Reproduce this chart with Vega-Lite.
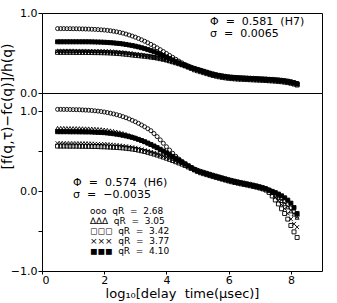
{
"$schema":"https://vega.github.io/schema/vega-lite/v6.json",
"padding":{"left":0,"top":6,"right":5,"bottom":0},
"background":"white",
"bounds":"flush",
"config":{
"font":"DejaVu Sans",
"view":{"stroke":"black","strokeWidth":1},
"axis":{"grid":false,"domain":false,"tickColor":"black","tickSize":4,"tickWidth":1,"labelFont":"DejaVu Sans","labelFontSize":11,"labelColor":"black","labelPadding":1,"titleFont":"DejaVu Sans","titleFontSize":13,"titleFontWeight":"normal","titleColor":"black"}
},
"title":{"text":"[f(q,τ)−fc(q)]/h(q)","orient":"left","anchor":"middle","fontSize":14,"font":"DejaVu Sans","fontWeight":"normal","color":"black","offset":-5,"dx":47},
"spacing":0,
"resolve":{"scale":{"shape":"independent","fill":"independent"},"legend":{"shape":"independent","fill":"independent"}},
"datasets":{
"top":[
{"q":"2.68","x":0.5,"y":0.805},{"q":"2.68","x":0.6,"y":0.805},{"q":"2.68","x":0.7,"y":0.805},{"q":"2.68","x":0.8,"y":0.804},{"q":"2.68","x":0.9,"y":0.804},{"q":"2.68","x":1.0,"y":0.803},{"q":"2.68","x":1.1,"y":0.803},{"q":"2.68","x":1.2,"y":0.802},{"q":"2.68","x":1.3,"y":0.801},{"q":"2.68","x":1.4,"y":0.800},
{"q":"2.68","x":1.5,"y":0.799},{"q":"2.68","x":1.6,"y":0.797},{"q":"2.68","x":1.7,"y":0.795},{"q":"2.68","x":1.8,"y":0.793},{"q":"2.68","x":1.9,"y":0.790},{"q":"2.68","x":2.0,"y":0.787},{"q":"2.68","x":2.1,"y":0.783},{"q":"2.68","x":2.2,"y":0.778},{"q":"2.68","x":2.3,"y":0.772},{"q":"2.68","x":2.4,"y":0.765},
{"q":"2.68","x":2.5,"y":0.757},{"q":"2.68","x":2.6,"y":0.748},{"q":"2.68","x":2.7,"y":0.737},{"q":"2.68","x":2.8,"y":0.725},{"q":"2.68","x":2.9,"y":0.712},{"q":"2.68","x":3.0,"y":0.698},{"q":"2.68","x":3.1,"y":0.682},{"q":"2.68","x":3.2,"y":0.665},{"q":"2.68","x":3.3,"y":0.647},{"q":"2.68","x":3.4,"y":0.628},
{"q":"2.68","x":3.5,"y":0.608},{"q":"2.68","x":3.6,"y":0.587},{"q":"2.68","x":3.7,"y":0.565},{"q":"2.68","x":3.8,"y":0.542},{"q":"2.68","x":3.9,"y":0.518},{"q":"2.68","x":4.0,"y":0.494},{"q":"2.68","x":4.1,"y":0.470},{"q":"2.68","x":4.2,"y":0.446},{"q":"2.68","x":4.3,"y":0.422},{"q":"2.68","x":4.4,"y":0.399},
{"q":"2.68","x":4.5,"y":0.377},{"q":"2.68","x":4.6,"y":0.357},{"q":"2.68","x":4.7,"y":0.339},{"q":"2.68","x":4.8,"y":0.323},{"q":"2.68","x":4.9,"y":0.309},{"q":"2.68","x":5.0,"y":0.296},{"q":"2.68","x":5.1,"y":0.286},{"q":"2.68","x":5.2,"y":0.274},{"q":"2.68","x":5.3,"y":0.262},{"q":"2.68","x":5.4,"y":0.250},
{"q":"2.68","x":5.5,"y":0.239},{"q":"2.68","x":5.6,"y":0.230},{"q":"2.68","x":5.7,"y":0.222},{"q":"2.68","x":5.8,"y":0.215},{"q":"2.68","x":5.9,"y":0.209},{"q":"2.68","x":6.0,"y":0.204},{"q":"2.68","x":6.1,"y":0.200},{"q":"2.68","x":6.2,"y":0.197},{"q":"2.68","x":6.3,"y":0.194},{"q":"2.68","x":6.4,"y":0.192},
{"q":"2.68","x":6.5,"y":0.190},{"q":"2.68","x":6.6,"y":0.188},{"q":"2.68","x":6.7,"y":0.186},{"q":"2.68","x":6.8,"y":0.184},{"q":"2.68","x":6.9,"y":0.182},{"q":"2.68","x":7.0,"y":0.180},{"q":"2.68","x":7.1,"y":0.178},{"q":"2.68","x":7.2,"y":0.176},{"q":"2.68","x":7.3,"y":0.173},{"q":"2.68","x":7.4,"y":0.171},
{"q":"2.68","x":7.5,"y":0.168},{"q":"2.68","x":7.6,"y":0.165},{"q":"2.68","x":7.7,"y":0.161},{"q":"2.68","x":7.8,"y":0.156},{"q":"2.68","x":7.9,"y":0.150},{"q":"2.68","x":8.0,"y":0.142},{"q":"2.68","x":8.1,"y":0.132},{"q":"2.68","x":8.2,"y":0.120},
{"q":"3.05","x":0.5,"y":0.530},{"q":"3.05","x":0.6,"y":0.530},{"q":"3.05","x":0.7,"y":0.530},{"q":"3.05","x":0.8,"y":0.530},{"q":"3.05","x":0.9,"y":0.530},{"q":"3.05","x":1.0,"y":0.530},{"q":"3.05","x":1.1,"y":0.529},{"q":"3.05","x":1.2,"y":0.529},{"q":"3.05","x":1.3,"y":0.529},{"q":"3.05","x":1.4,"y":0.529},
{"q":"3.05","x":1.5,"y":0.528},{"q":"3.05","x":1.6,"y":0.528},{"q":"3.05","x":1.7,"y":0.527},{"q":"3.05","x":1.8,"y":0.527},{"q":"3.05","x":1.9,"y":0.526},{"q":"3.05","x":2.0,"y":0.525},{"q":"3.05","x":2.1,"y":0.524},{"q":"3.05","x":2.2,"y":0.522},{"q":"3.05","x":2.3,"y":0.520},{"q":"3.05","x":2.4,"y":0.517},
{"q":"3.05","x":2.5,"y":0.514},{"q":"3.05","x":2.6,"y":0.510},{"q":"3.05","x":2.7,"y":0.506},{"q":"3.05","x":2.8,"y":0.502},{"q":"3.05","x":2.9,"y":0.497},{"q":"3.05","x":3.0,"y":0.492},{"q":"3.05","x":3.1,"y":0.487},{"q":"3.05","x":3.2,"y":0.481},{"q":"3.05","x":3.3,"y":0.475},{"q":"3.05","x":3.4,"y":0.468},
{"q":"3.05","x":3.5,"y":0.461},{"q":"3.05","x":3.6,"y":0.453},{"q":"3.05","x":3.7,"y":0.445},{"q":"3.05","x":3.8,"y":0.436},{"q":"3.05","x":3.9,"y":0.427},{"q":"3.05","x":4.0,"y":0.417},{"q":"3.05","x":4.1,"y":0.407},{"q":"3.05","x":4.2,"y":0.396},{"q":"3.05","x":4.3,"y":0.385},{"q":"3.05","x":4.4,"y":0.373},
{"q":"3.05","x":4.5,"y":0.361},{"q":"3.05","x":4.6,"y":0.347},{"q":"3.05","x":4.7,"y":0.332},{"q":"3.05","x":4.8,"y":0.317},{"q":"3.05","x":4.9,"y":0.300},{"q":"3.05","x":5.0,"y":0.288},{"q":"3.05","x":5.1,"y":0.276},{"q":"3.05","x":5.2,"y":0.264},{"q":"3.05","x":5.3,"y":0.252},{"q":"3.05","x":5.4,"y":0.240},
{"q":"3.05","x":5.5,"y":0.229},{"q":"3.05","x":5.6,"y":0.220},{"q":"3.05","x":5.7,"y":0.212},{"q":"3.05","x":5.8,"y":0.205},{"q":"3.05","x":5.9,"y":0.199},{"q":"3.05","x":6.0,"y":0.194},{"q":"3.05","x":6.1,"y":0.190},{"q":"3.05","x":6.2,"y":0.187},{"q":"3.05","x":6.3,"y":0.184},{"q":"3.05","x":6.4,"y":0.182},
{"q":"3.05","x":6.5,"y":0.180},{"q":"3.05","x":6.6,"y":0.178},{"q":"3.05","x":6.7,"y":0.176},{"q":"3.05","x":6.8,"y":0.174},{"q":"3.05","x":6.9,"y":0.172},{"q":"3.05","x":7.0,"y":0.170},{"q":"3.05","x":7.1,"y":0.168},{"q":"3.05","x":7.2,"y":0.166},{"q":"3.05","x":7.3,"y":0.163},{"q":"3.05","x":7.4,"y":0.161},
{"q":"3.05","x":7.5,"y":0.158},{"q":"3.05","x":7.6,"y":0.155},{"q":"3.05","x":7.7,"y":0.151},{"q":"3.05","x":7.8,"y":0.146},{"q":"3.05","x":7.9,"y":0.140},{"q":"3.05","x":8.0,"y":0.132},{"q":"3.05","x":8.1,"y":0.122},{"q":"3.05","x":8.2,"y":0.110},
{"q":"3.42","x":0.5,"y":0.508},{"q":"3.42","x":0.6,"y":0.508},{"q":"3.42","x":0.7,"y":0.508},{"q":"3.42","x":0.8,"y":0.508},{"q":"3.42","x":0.9,"y":0.508},{"q":"3.42","x":1.0,"y":0.508},{"q":"3.42","x":1.1,"y":0.507},{"q":"3.42","x":1.2,"y":0.507},{"q":"3.42","x":1.3,"y":0.507},{"q":"3.42","x":1.4,"y":0.507},
{"q":"3.42","x":1.5,"y":0.506},{"q":"3.42","x":1.6,"y":0.506},{"q":"3.42","x":1.7,"y":0.505},{"q":"3.42","x":1.8,"y":0.505},{"q":"3.42","x":1.9,"y":0.504},{"q":"3.42","x":2.0,"y":0.503},{"q":"3.42","x":2.1,"y":0.502},{"q":"3.42","x":2.2,"y":0.500},{"q":"3.42","x":2.3,"y":0.498},{"q":"3.42","x":2.4,"y":0.495},
{"q":"3.42","x":2.5,"y":0.492},{"q":"3.42","x":2.6,"y":0.488},{"q":"3.42","x":2.7,"y":0.484},{"q":"3.42","x":2.8,"y":0.480},{"q":"3.42","x":2.9,"y":0.475},{"q":"3.42","x":3.0,"y":0.470},{"q":"3.42","x":3.1,"y":0.467},{"q":"3.42","x":3.2,"y":0.463},{"q":"3.42","x":3.3,"y":0.459},{"q":"3.42","x":3.4,"y":0.454},
{"q":"3.42","x":3.5,"y":0.449},{"q":"3.42","x":3.6,"y":0.443},{"q":"3.42","x":3.7,"y":0.437},{"q":"3.42","x":3.8,"y":0.429},{"q":"3.42","x":3.9,"y":0.421},{"q":"3.42","x":4.0,"y":0.412},{"q":"3.42","x":4.1,"y":0.401},{"q":"3.42","x":4.2,"y":0.390},{"q":"3.42","x":4.3,"y":0.378},{"q":"3.42","x":4.4,"y":0.366},
{"q":"3.42","x":4.5,"y":0.353},{"q":"3.42","x":4.6,"y":0.339},{"q":"3.42","x":4.7,"y":0.324},{"q":"3.42","x":4.8,"y":0.308},{"q":"3.42","x":4.9,"y":0.290},{"q":"3.42","x":5.0,"y":0.278},{"q":"3.42","x":5.1,"y":0.266},{"q":"3.42","x":5.2,"y":0.254},{"q":"3.42","x":5.3,"y":0.242},{"q":"3.42","x":5.4,"y":0.230},
{"q":"3.42","x":5.5,"y":0.219},{"q":"3.42","x":5.6,"y":0.210},{"q":"3.42","x":5.7,"y":0.202},{"q":"3.42","x":5.8,"y":0.195},{"q":"3.42","x":5.9,"y":0.189},{"q":"3.42","x":6.0,"y":0.184},{"q":"3.42","x":6.1,"y":0.180},{"q":"3.42","x":6.2,"y":0.177},{"q":"3.42","x":6.3,"y":0.174},{"q":"3.42","x":6.4,"y":0.172},
{"q":"3.42","x":6.5,"y":0.170},{"q":"3.42","x":6.6,"y":0.168},{"q":"3.42","x":6.7,"y":0.166},{"q":"3.42","x":6.8,"y":0.164},{"q":"3.42","x":6.9,"y":0.162},{"q":"3.42","x":7.0,"y":0.160},{"q":"3.42","x":7.1,"y":0.158},{"q":"3.42","x":7.2,"y":0.156},{"q":"3.42","x":7.3,"y":0.153},{"q":"3.42","x":7.4,"y":0.151},
{"q":"3.42","x":7.5,"y":0.148},{"q":"3.42","x":7.6,"y":0.145},{"q":"3.42","x":7.7,"y":0.141},{"q":"3.42","x":7.8,"y":0.136},{"q":"3.42","x":7.9,"y":0.130},{"q":"3.42","x":8.0,"y":0.122},{"q":"3.42","x":8.1,"y":0.112},{"q":"3.42","x":8.2,"y":0.100},
{"q":"3.77","x":0.5,"y":0.519},{"q":"3.77","x":0.6,"y":0.519},{"q":"3.77","x":0.7,"y":0.519},{"q":"3.77","x":0.8,"y":0.519},{"q":"3.77","x":0.9,"y":0.519},{"q":"3.77","x":1.0,"y":0.519},{"q":"3.77","x":1.1,"y":0.518},{"q":"3.77","x":1.2,"y":0.518},{"q":"3.77","x":1.3,"y":0.518},{"q":"3.77","x":1.4,"y":0.518},
{"q":"3.77","x":1.5,"y":0.517},{"q":"3.77","x":1.6,"y":0.517},{"q":"3.77","x":1.7,"y":0.516},{"q":"3.77","x":1.8,"y":0.516},{"q":"3.77","x":1.9,"y":0.515},{"q":"3.77","x":2.0,"y":0.514},{"q":"3.77","x":2.1,"y":0.513},{"q":"3.77","x":2.2,"y":0.511},{"q":"3.77","x":2.3,"y":0.509},{"q":"3.77","x":2.4,"y":0.506},
{"q":"3.77","x":2.5,"y":0.503},{"q":"3.77","x":2.6,"y":0.499},{"q":"3.77","x":2.7,"y":0.495},{"q":"3.77","x":2.8,"y":0.491},{"q":"3.77","x":2.9,"y":0.486},{"q":"3.77","x":3.0,"y":0.481},{"q":"3.77","x":3.1,"y":0.477},{"q":"3.77","x":3.2,"y":0.472},{"q":"3.77","x":3.3,"y":0.467},{"q":"3.77","x":3.4,"y":0.461},
{"q":"3.77","x":3.5,"y":0.455},{"q":"3.77","x":3.6,"y":0.448},{"q":"3.77","x":3.7,"y":0.441},{"q":"3.77","x":3.8,"y":0.433},{"q":"3.77","x":3.9,"y":0.424},{"q":"3.77","x":4.0,"y":0.415},{"q":"3.77","x":4.1,"y":0.404},{"q":"3.77","x":4.2,"y":0.393},{"q":"3.77","x":4.3,"y":0.382},{"q":"3.77","x":4.4,"y":0.370},
{"q":"3.77","x":4.5,"y":0.357},{"q":"3.77","x":4.6,"y":0.343},{"q":"3.77","x":4.7,"y":0.328},{"q":"3.77","x":4.8,"y":0.312},{"q":"3.77","x":4.9,"y":0.295},{"q":"3.77","x":5.0,"y":0.283},{"q":"3.77","x":5.1,"y":0.271},{"q":"3.77","x":5.2,"y":0.259},{"q":"3.77","x":5.3,"y":0.247},{"q":"3.77","x":5.4,"y":0.235},
{"q":"3.77","x":5.5,"y":0.224},{"q":"3.77","x":5.6,"y":0.215},{"q":"3.77","x":5.7,"y":0.207},{"q":"3.77","x":5.8,"y":0.200},{"q":"3.77","x":5.9,"y":0.194},{"q":"3.77","x":6.0,"y":0.189},{"q":"3.77","x":6.1,"y":0.185},{"q":"3.77","x":6.2,"y":0.182},{"q":"3.77","x":6.3,"y":0.179},{"q":"3.77","x":6.4,"y":0.177},
{"q":"3.77","x":6.5,"y":0.175},{"q":"3.77","x":6.6,"y":0.173},{"q":"3.77","x":6.7,"y":0.171},{"q":"3.77","x":6.8,"y":0.169},{"q":"3.77","x":6.9,"y":0.167},{"q":"3.77","x":7.0,"y":0.165},{"q":"3.77","x":7.1,"y":0.163},{"q":"3.77","x":7.2,"y":0.161},{"q":"3.77","x":7.3,"y":0.158},{"q":"3.77","x":7.4,"y":0.156},
{"q":"3.77","x":7.5,"y":0.153},{"q":"3.77","x":7.6,"y":0.150},{"q":"3.77","x":7.7,"y":0.146},{"q":"3.77","x":7.8,"y":0.141},{"q":"3.77","x":7.9,"y":0.135},{"q":"3.77","x":8.0,"y":0.127},{"q":"3.77","x":8.1,"y":0.117},{"q":"3.77","x":8.2,"y":0.105},
{"q":"4.10","x":0.5,"y":0.640},{"q":"4.10","x":0.6,"y":0.640},{"q":"4.10","x":0.7,"y":0.640},{"q":"4.10","x":0.8,"y":0.640},{"q":"4.10","x":0.9,"y":0.640},{"q":"4.10","x":1.0,"y":0.640},{"q":"4.10","x":1.1,"y":0.640},{"q":"4.10","x":1.2,"y":0.640},{"q":"4.10","x":1.3,"y":0.640},{"q":"4.10","x":1.4,"y":0.640},
{"q":"4.10","x":1.5,"y":0.640},{"q":"4.10","x":1.6,"y":0.639},{"q":"4.10","x":1.7,"y":0.638},{"q":"4.10","x":1.8,"y":0.637},{"q":"4.10","x":1.9,"y":0.636},{"q":"4.10","x":2.0,"y":0.634},{"q":"4.10","x":2.1,"y":0.632},{"q":"4.10","x":2.2,"y":0.629},{"q":"4.10","x":2.3,"y":0.626},{"q":"4.10","x":2.4,"y":0.622},
{"q":"4.10","x":2.5,"y":0.618},{"q":"4.10","x":2.6,"y":0.613},{"q":"4.10","x":2.7,"y":0.607},{"q":"4.10","x":2.8,"y":0.600},{"q":"4.10","x":2.9,"y":0.593},{"q":"4.10","x":3.0,"y":0.585},{"q":"4.10","x":3.1,"y":0.576},{"q":"4.10","x":3.2,"y":0.566},{"q":"4.10","x":3.3,"y":0.555},{"q":"4.10","x":3.4,"y":0.543},
{"q":"4.10","x":3.5,"y":0.530},{"q":"4.10","x":3.6,"y":0.516},{"q":"4.10","x":3.7,"y":0.501},{"q":"4.10","x":3.8,"y":0.485},{"q":"4.10","x":3.9,"y":0.468},{"q":"4.10","x":4.0,"y":0.450},{"q":"4.10","x":4.1,"y":0.432},{"q":"4.10","x":4.2,"y":0.414},{"q":"4.10","x":4.3,"y":0.396},{"q":"4.10","x":4.4,"y":0.378},
{"q":"4.10","x":4.5,"y":0.360},{"q":"4.10","x":4.6,"y":0.344},{"q":"4.10","x":4.7,"y":0.329},{"q":"4.10","x":4.8,"y":0.315},{"q":"4.10","x":4.9,"y":0.304},{"q":"4.10","x":5.0,"y":0.293},{"q":"4.10","x":5.1,"y":0.281},{"q":"4.10","x":5.2,"y":0.269},{"q":"4.10","x":5.3,"y":0.257},{"q":"4.10","x":5.4,"y":0.245},
{"q":"4.10","x":5.5,"y":0.234},{"q":"4.10","x":5.6,"y":0.225},{"q":"4.10","x":5.7,"y":0.217},{"q":"4.10","x":5.8,"y":0.210},{"q":"4.10","x":5.9,"y":0.204},{"q":"4.10","x":6.0,"y":0.199},{"q":"4.10","x":6.1,"y":0.195},{"q":"4.10","x":6.2,"y":0.192},{"q":"4.10","x":6.3,"y":0.189},{"q":"4.10","x":6.4,"y":0.187},
{"q":"4.10","x":6.5,"y":0.185},{"q":"4.10","x":6.6,"y":0.183},{"q":"4.10","x":6.7,"y":0.181},{"q":"4.10","x":6.8,"y":0.179},{"q":"4.10","x":6.9,"y":0.177},{"q":"4.10","x":7.0,"y":0.175},{"q":"4.10","x":7.1,"y":0.173},{"q":"4.10","x":7.2,"y":0.171},{"q":"4.10","x":7.3,"y":0.168},{"q":"4.10","x":7.4,"y":0.166},
{"q":"4.10","x":7.5,"y":0.163},{"q":"4.10","x":7.6,"y":0.160},{"q":"4.10","x":7.7,"y":0.156},{"q":"4.10","x":7.8,"y":0.151},{"q":"4.10","x":7.9,"y":0.145},{"q":"4.10","x":8.0,"y":0.137},{"q":"4.10","x":8.1,"y":0.127},{"q":"4.10","x":8.2,"y":0.115}
],
"bot":[
{"q":"2.68","x":0.5,"y":1.025},{"q":"2.68","x":0.6,"y":1.025},{"q":"2.68","x":0.7,"y":1.024},{"q":"2.68","x":0.8,"y":1.024},{"q":"2.68","x":0.9,"y":1.023},{"q":"2.68","x":1.0,"y":1.022},{"q":"2.68","x":1.1,"y":1.021},{"q":"2.68","x":1.2,"y":1.020},{"q":"2.68","x":1.3,"y":1.018},{"q":"2.68","x":1.4,"y":1.016},
{"q":"2.68","x":1.5,"y":1.014},{"q":"2.68","x":1.6,"y":1.011},{"q":"2.68","x":1.7,"y":1.007},{"q":"2.68","x":1.8,"y":1.003},{"q":"2.68","x":1.9,"y":0.998},{"q":"2.68","x":2.0,"y":0.992},{"q":"2.68","x":2.1,"y":0.985},{"q":"2.68","x":2.2,"y":0.977},{"q":"2.68","x":2.3,"y":0.968},{"q":"2.68","x":2.4,"y":0.958},
{"q":"2.68","x":2.5,"y":0.947},{"q":"2.68","x":2.6,"y":0.934},{"q":"2.68","x":2.7,"y":0.920},{"q":"2.68","x":2.8,"y":0.905},{"q":"2.68","x":2.9,"y":0.888},{"q":"2.68","x":3.0,"y":0.870},{"q":"2.68","x":3.1,"y":0.850},{"q":"2.68","x":3.2,"y":0.829},{"q":"2.68","x":3.3,"y":0.807},{"q":"2.68","x":3.4,"y":0.783},
{"q":"2.68","x":3.5,"y":0.758},{"q":"2.68","x":3.6,"y":0.722},{"q":"2.68","x":3.7,"y":0.684},{"q":"2.68","x":3.8,"y":0.643},{"q":"2.68","x":3.9,"y":0.600},{"q":"2.68","x":4.0,"y":0.557},{"q":"2.68","x":4.1,"y":0.515},{"q":"2.68","x":4.2,"y":0.475},{"q":"2.68","x":4.3,"y":0.437},{"q":"2.68","x":4.4,"y":0.402},
{"q":"2.68","x":4.5,"y":0.370},{"q":"2.68","x":4.6,"y":0.342},{"q":"2.68","x":4.7,"y":0.317},{"q":"2.68","x":4.8,"y":0.296},{"q":"2.68","x":4.9,"y":0.278},{"q":"2.68","x":5.0,"y":0.263},{"q":"2.68","x":5.1,"y":0.250},{"q":"2.68","x":5.2,"y":0.238},{"q":"2.68","x":5.3,"y":0.226},{"q":"2.68","x":5.4,"y":0.214},
{"q":"2.68","x":5.5,"y":0.202},{"q":"2.68","x":5.6,"y":0.191},{"q":"2.68","x":5.7,"y":0.180},{"q":"2.68","x":5.8,"y":0.169},{"q":"2.68","x":5.9,"y":0.158},{"q":"2.68","x":6.0,"y":0.147},{"q":"2.68","x":6.1,"y":0.137},{"q":"2.68","x":6.2,"y":0.128},{"q":"2.68","x":6.3,"y":0.119},{"q":"2.68","x":6.4,"y":0.111},
{"q":"2.68","x":6.5,"y":0.103},{"q":"2.68","x":6.6,"y":0.095},{"q":"2.68","x":6.7,"y":0.087},{"q":"2.68","x":6.8,"y":0.078},{"q":"2.68","x":6.9,"y":0.069},{"q":"2.68","x":7.0,"y":0.059},{"q":"2.68","x":7.1,"y":0.048},{"q":"2.68","x":7.2,"y":0.036},{"q":"2.68","x":7.3,"y":0.015},{"q":"2.68","x":7.4,"y":-0.003},
{"q":"2.68","x":7.5,"y":-0.025},{"q":"2.68","x":7.6,"y":-0.055},{"q":"2.68","x":7.7,"y":-0.090},{"q":"2.68","x":7.8,"y":-0.130},{"q":"2.68","x":7.9,"y":-0.170},{"q":"2.68","x":8.0,"y":-0.210},{"q":"2.68","x":8.1,"y":-0.260},{"q":"2.68","x":8.2,"y":-0.310},
{"q":"3.05","x":0.5,"y":0.790},{"q":"3.05","x":0.6,"y":0.790},{"q":"3.05","x":0.7,"y":0.790},{"q":"3.05","x":0.8,"y":0.789},{"q":"3.05","x":0.9,"y":0.789},{"q":"3.05","x":1.0,"y":0.788},{"q":"3.05","x":1.1,"y":0.788},{"q":"3.05","x":1.2,"y":0.787},{"q":"3.05","x":1.3,"y":0.786},{"q":"3.05","x":1.4,"y":0.785},
{"q":"3.05","x":1.5,"y":0.784},{"q":"3.05","x":1.6,"y":0.782},{"q":"3.05","x":1.7,"y":0.780},{"q":"3.05","x":1.8,"y":0.777},{"q":"3.05","x":1.9,"y":0.774},{"q":"3.05","x":2.0,"y":0.770},{"q":"3.05","x":2.1,"y":0.765},{"q":"3.05","x":2.2,"y":0.759},{"q":"3.05","x":2.3,"y":0.752},{"q":"3.05","x":2.4,"y":0.744},
{"q":"3.05","x":2.5,"y":0.735},{"q":"3.05","x":2.6,"y":0.725},{"q":"3.05","x":2.7,"y":0.714},{"q":"3.05","x":2.8,"y":0.701},{"q":"3.05","x":2.9,"y":0.687},{"q":"3.05","x":3.0,"y":0.672},{"q":"3.05","x":3.1,"y":0.656},{"q":"3.05","x":3.2,"y":0.639},{"q":"3.05","x":3.3,"y":0.621},{"q":"3.05","x":3.4,"y":0.602},
{"q":"3.05","x":3.5,"y":0.583},{"q":"3.05","x":3.6,"y":0.563},{"q":"3.05","x":3.7,"y":0.542},{"q":"3.05","x":3.8,"y":0.521},{"q":"3.05","x":3.9,"y":0.499},{"q":"3.05","x":4.0,"y":0.477},{"q":"3.05","x":4.1,"y":0.454},{"q":"3.05","x":4.2,"y":0.431},{"q":"3.05","x":4.3,"y":0.408},{"q":"3.05","x":4.4,"y":0.385},
{"q":"3.05","x":4.5,"y":0.362},{"q":"3.05","x":4.6,"y":0.340},{"q":"3.05","x":4.7,"y":0.318},{"q":"3.05","x":4.8,"y":0.297},{"q":"3.05","x":4.9,"y":0.277},{"q":"3.05","x":5.0,"y":0.259},{"q":"3.05","x":5.1,"y":0.244},{"q":"3.05","x":5.2,"y":0.232},{"q":"3.05","x":5.3,"y":0.220},{"q":"3.05","x":5.4,"y":0.208},
{"q":"3.05","x":5.5,"y":0.196},{"q":"3.05","x":5.6,"y":0.185},{"q":"3.05","x":5.7,"y":0.174},{"q":"3.05","x":5.8,"y":0.163},{"q":"3.05","x":5.9,"y":0.152},{"q":"3.05","x":6.0,"y":0.141},{"q":"3.05","x":6.1,"y":0.131},{"q":"3.05","x":6.2,"y":0.122},{"q":"3.05","x":6.3,"y":0.113},{"q":"3.05","x":6.4,"y":0.105},
{"q":"3.05","x":6.5,"y":0.097},{"q":"3.05","x":6.6,"y":0.089},{"q":"3.05","x":6.7,"y":0.081},{"q":"3.05","x":6.8,"y":0.072},{"q":"3.05","x":6.9,"y":0.063},{"q":"3.05","x":7.0,"y":0.053},{"q":"3.05","x":7.1,"y":0.042},{"q":"3.05","x":7.2,"y":0.030},{"q":"3.05","x":7.3,"y":0.014},{"q":"3.05","x":7.4,"y":-0.020},
{"q":"3.05","x":7.5,"y":-0.050},{"q":"3.05","x":7.6,"y":-0.080},{"q":"3.05","x":7.7,"y":-0.120},{"q":"3.05","x":7.8,"y":-0.160},{"q":"3.05","x":7.9,"y":-0.200},{"q":"3.05","x":8.0,"y":-0.250},{"q":"3.05","x":8.1,"y":-0.290},{"q":"3.05","x":8.2,"y":-0.330},
{"q":"3.42","x":0.5,"y":0.565},{"q":"3.42","x":0.6,"y":0.565},{"q":"3.42","x":0.7,"y":0.565},{"q":"3.42","x":0.8,"y":0.565},{"q":"3.42","x":0.9,"y":0.564},{"q":"3.42","x":1.0,"y":0.564},{"q":"3.42","x":1.1,"y":0.564},{"q":"3.42","x":1.2,"y":0.563},{"q":"3.42","x":1.3,"y":0.563},{"q":"3.42","x":1.4,"y":0.562},
{"q":"3.42","x":1.5,"y":0.562},{"q":"3.42","x":1.6,"y":0.561},{"q":"3.42","x":1.7,"y":0.560},{"q":"3.42","x":1.8,"y":0.559},{"q":"3.42","x":1.9,"y":0.557},{"q":"3.42","x":2.0,"y":0.556},{"q":"3.42","x":2.1,"y":0.554},{"q":"3.42","x":2.2,"y":0.552},{"q":"3.42","x":2.3,"y":0.550},{"q":"3.42","x":2.4,"y":0.548},
{"q":"3.42","x":2.5,"y":0.545},{"q":"3.42","x":2.6,"y":0.542},{"q":"3.42","x":2.7,"y":0.538},{"q":"3.42","x":2.8,"y":0.533},{"q":"3.42","x":2.9,"y":0.528},{"q":"3.42","x":3.0,"y":0.522},{"q":"3.42","x":3.1,"y":0.514},{"q":"3.42","x":3.2,"y":0.506},{"q":"3.42","x":3.3,"y":0.497},{"q":"3.42","x":3.4,"y":0.487},
{"q":"3.42","x":3.5,"y":0.476},{"q":"3.42","x":3.6,"y":0.465},{"q":"3.42","x":3.7,"y":0.453},{"q":"3.42","x":3.8,"y":0.440},{"q":"3.42","x":3.9,"y":0.427},{"q":"3.42","x":4.0,"y":0.413},{"q":"3.42","x":4.1,"y":0.399},{"q":"3.42","x":4.2,"y":0.384},{"q":"3.42","x":4.3,"y":0.369},{"q":"3.42","x":4.4,"y":0.354},
{"q":"3.42","x":4.5,"y":0.339},{"q":"3.42","x":4.6,"y":0.322},{"q":"3.42","x":4.7,"y":0.303},{"q":"3.42","x":4.8,"y":0.285},{"q":"3.42","x":4.9,"y":0.266},{"q":"3.42","x":5.0,"y":0.248},{"q":"3.42","x":5.1,"y":0.231},{"q":"3.42","x":5.2,"y":0.219},{"q":"3.42","x":5.3,"y":0.207},{"q":"3.42","x":5.4,"y":0.195},
{"q":"3.42","x":5.5,"y":0.183},{"q":"3.42","x":5.6,"y":0.172},{"q":"3.42","x":5.7,"y":0.161},{"q":"3.42","x":5.8,"y":0.150},{"q":"3.42","x":5.9,"y":0.139},{"q":"3.42","x":6.0,"y":0.128},{"q":"3.42","x":6.1,"y":0.118},{"q":"3.42","x":6.2,"y":0.109},{"q":"3.42","x":6.3,"y":0.100},{"q":"3.42","x":6.4,"y":0.092},
{"q":"3.42","x":6.5,"y":0.084},{"q":"3.42","x":6.6,"y":0.076},{"q":"3.42","x":6.7,"y":0.068},{"q":"3.42","x":6.8,"y":0.059},{"q":"3.42","x":6.9,"y":0.050},{"q":"3.42","x":7.0,"y":0.040},{"q":"3.42","x":7.1,"y":0.029},{"q":"3.42","x":7.2,"y":0.014},{"q":"3.42","x":7.3,"y":-0.015},{"q":"3.42","x":7.4,"y":-0.060},
{"q":"3.42","x":7.5,"y":-0.110},{"q":"3.42","x":7.6,"y":-0.160},{"q":"3.42","x":7.7,"y":-0.220},{"q":"3.42","x":7.8,"y":-0.280},{"q":"3.42","x":7.9,"y":-0.350},{"q":"3.42","x":8.0,"y":-0.430},{"q":"3.42","x":8.1,"y":-0.510},{"q":"3.42","x":8.2,"y":-0.580},
{"q":"3.77","x":0.5,"y":0.600},{"q":"3.77","x":0.6,"y":0.600},{"q":"3.77","x":0.7,"y":0.600},{"q":"3.77","x":0.8,"y":0.599},{"q":"3.77","x":0.9,"y":0.599},{"q":"3.77","x":1.0,"y":0.599},{"q":"3.77","x":1.1,"y":0.598},{"q":"3.77","x":1.2,"y":0.598},{"q":"3.77","x":1.3,"y":0.597},{"q":"3.77","x":1.4,"y":0.597},
{"q":"3.77","x":1.5,"y":0.596},{"q":"3.77","x":1.6,"y":0.595},{"q":"3.77","x":1.7,"y":0.593},{"q":"3.77","x":1.8,"y":0.592},{"q":"3.77","x":1.9,"y":0.590},{"q":"3.77","x":2.0,"y":0.589},{"q":"3.77","x":2.1,"y":0.586},{"q":"3.77","x":2.2,"y":0.583},{"q":"3.77","x":2.3,"y":0.580},{"q":"3.77","x":2.4,"y":0.576},
{"q":"3.77","x":2.5,"y":0.572},{"q":"3.77","x":2.6,"y":0.567},{"q":"3.77","x":2.7,"y":0.562},{"q":"3.77","x":2.8,"y":0.556},{"q":"3.77","x":2.9,"y":0.550},{"q":"3.77","x":3.0,"y":0.543},{"q":"3.77","x":3.1,"y":0.534},{"q":"3.77","x":3.2,"y":0.524},{"q":"3.77","x":3.3,"y":0.513},{"q":"3.77","x":3.4,"y":0.502},
{"q":"3.77","x":3.5,"y":0.490},{"q":"3.77","x":3.6,"y":0.477},{"q":"3.77","x":3.7,"y":0.464},{"q":"3.77","x":3.8,"y":0.450},{"q":"3.77","x":3.9,"y":0.436},{"q":"3.77","x":4.0,"y":0.421},{"q":"3.77","x":4.1,"y":0.406},{"q":"3.77","x":4.2,"y":0.390},{"q":"3.77","x":4.3,"y":0.374},{"q":"3.77","x":4.4,"y":0.358},
{"q":"3.77","x":4.5,"y":0.342},{"q":"3.77","x":4.6,"y":0.325},{"q":"3.77","x":4.7,"y":0.306},{"q":"3.77","x":4.8,"y":0.287},{"q":"3.77","x":4.9,"y":0.268},{"q":"3.77","x":5.0,"y":0.250},{"q":"3.77","x":5.1,"y":0.235},{"q":"3.77","x":5.2,"y":0.223},{"q":"3.77","x":5.3,"y":0.211},{"q":"3.77","x":5.4,"y":0.199},
{"q":"3.77","x":5.5,"y":0.187},{"q":"3.77","x":5.6,"y":0.176},{"q":"3.77","x":5.7,"y":0.165},{"q":"3.77","x":5.8,"y":0.154},{"q":"3.77","x":5.9,"y":0.143},{"q":"3.77","x":6.0,"y":0.132},{"q":"3.77","x":6.1,"y":0.122},{"q":"3.77","x":6.2,"y":0.113},{"q":"3.77","x":6.3,"y":0.104},{"q":"3.77","x":6.4,"y":0.096},
{"q":"3.77","x":6.5,"y":0.088},{"q":"3.77","x":6.6,"y":0.080},{"q":"3.77","x":6.7,"y":0.072},{"q":"3.77","x":6.8,"y":0.063},{"q":"3.77","x":6.9,"y":0.054},{"q":"3.77","x":7.0,"y":0.044},{"q":"3.77","x":7.1,"y":0.033},{"q":"3.77","x":7.2,"y":0.021},{"q":"3.77","x":7.3,"y":-0.005},{"q":"3.77","x":7.4,"y":-0.035},
{"q":"3.77","x":7.5,"y":-0.080},{"q":"3.77","x":7.6,"y":-0.120},{"q":"3.77","x":7.7,"y":-0.170},{"q":"3.77","x":7.8,"y":-0.220},{"q":"3.77","x":7.9,"y":-0.280},{"q":"3.77","x":8.0,"y":-0.350},{"q":"3.77","x":8.1,"y":-0.410},{"q":"3.77","x":8.2,"y":-0.450},
{"q":"4.10","x":0.5,"y":0.745},{"q":"4.10","x":0.6,"y":0.745},{"q":"4.10","x":0.7,"y":0.745},{"q":"4.10","x":0.8,"y":0.745},{"q":"4.10","x":0.9,"y":0.744},{"q":"4.10","x":1.0,"y":0.744},{"q":"4.10","x":1.1,"y":0.744},{"q":"4.10","x":1.2,"y":0.743},{"q":"4.10","x":1.3,"y":0.743},{"q":"4.10","x":1.4,"y":0.742},
{"q":"4.10","x":1.5,"y":0.742},{"q":"4.10","x":1.6,"y":0.741},{"q":"4.10","x":1.7,"y":0.739},{"q":"4.10","x":1.8,"y":0.737},{"q":"4.10","x":1.9,"y":0.735},{"q":"4.10","x":2.0,"y":0.733},{"q":"4.10","x":2.1,"y":0.729},{"q":"4.10","x":2.2,"y":0.725},{"q":"4.10","x":2.3,"y":0.720},{"q":"4.10","x":2.4,"y":0.714},
{"q":"4.10","x":2.5,"y":0.708},{"q":"4.10","x":2.6,"y":0.700},{"q":"4.10","x":2.7,"y":0.692},{"q":"4.10","x":2.8,"y":0.683},{"q":"4.10","x":2.9,"y":0.673},{"q":"4.10","x":3.0,"y":0.662},{"q":"4.10","x":3.1,"y":0.649},{"q":"4.10","x":3.2,"y":0.635},{"q":"4.10","x":3.3,"y":0.620},{"q":"4.10","x":3.4,"y":0.603},
{"q":"4.10","x":3.5,"y":0.585},{"q":"4.10","x":3.6,"y":0.566},{"q":"4.10","x":3.7,"y":0.546},{"q":"4.10","x":3.8,"y":0.525},{"q":"4.10","x":3.9,"y":0.503},{"q":"4.10","x":4.0,"y":0.481},{"q":"4.10","x":4.1,"y":0.458},{"q":"4.10","x":4.2,"y":0.436},{"q":"4.10","x":4.3,"y":0.413},{"q":"4.10","x":4.4,"y":0.390},
{"q":"4.10","x":4.5,"y":0.366},{"q":"4.10","x":4.6,"y":0.342},{"q":"4.10","x":4.7,"y":0.318},{"q":"4.10","x":4.8,"y":0.295},{"q":"4.10","x":4.9,"y":0.272},{"q":"4.10","x":5.0,"y":0.254},{"q":"4.10","x":5.1,"y":0.241},{"q":"4.10","x":5.2,"y":0.229},{"q":"4.10","x":5.3,"y":0.217},{"q":"4.10","x":5.4,"y":0.205},
{"q":"4.10","x":5.5,"y":0.193},{"q":"4.10","x":5.6,"y":0.182},{"q":"4.10","x":5.7,"y":0.171},{"q":"4.10","x":5.8,"y":0.160},{"q":"4.10","x":5.9,"y":0.149},{"q":"4.10","x":6.0,"y":0.138},{"q":"4.10","x":6.1,"y":0.128},{"q":"4.10","x":6.2,"y":0.119},{"q":"4.10","x":6.3,"y":0.110},{"q":"4.10","x":6.4,"y":0.102},
{"q":"4.10","x":6.5,"y":0.094},{"q":"4.10","x":6.6,"y":0.086},{"q":"4.10","x":6.7,"y":0.078},{"q":"4.10","x":6.8,"y":0.069},{"q":"4.10","x":6.9,"y":0.060},{"q":"4.10","x":7.0,"y":0.050},{"q":"4.10","x":7.1,"y":0.039},{"q":"4.10","x":7.2,"y":0.027},{"q":"4.10","x":7.3,"y":0.013},{"q":"4.10","x":7.4,"y":-0.003},
{"q":"4.10","x":7.5,"y":-0.018},{"q":"4.10","x":7.6,"y":-0.036},{"q":"4.10","x":7.7,"y":-0.058},{"q":"4.10","x":7.8,"y":-0.083},{"q":"4.10","x":7.9,"y":-0.112},{"q":"4.10","x":8.0,"y":-0.150},{"q":"4.10","x":8.1,"y":-0.205},{"q":"4.10","x":8.2,"y":-0.280}
]
},
"vconcat":[
{
"width":280,"height":80,
"layer":[
{"data":{"name":"top"},
"mark":{"type":"point","filled":false,"stroke":"black","strokeWidth":0.9,"size":16,"opacity":1},
"encoding":{
"x":{"field":"x","type":"quantitative","scale":{"domain":[0,9],"nice":false,"zero":false},"axis":null},
"y":{"field":"y","type":"quantitative","scale":{"domain":[0,1],"nice":false,"zero":false},"axis":{"values":[0,0.5,1],"labelExpr":"datum.value % 1 === 0 ? format(datum.value, '.1f') : ''","title":null}},
"shape":{"field":"q","type":"nominal","scale":{"domain":["2.68","3.05","3.42","3.77","4.10"],"range":["circle","triangle-up","square","M-1,-1L1,1M-1,1L1,-1","square"]},"legend":null},
"fill":{"field":"q","type":"nominal","scale":{"domain":["2.68","3.05","3.42","3.77","4.10"],"range":["transparent","transparent","transparent","transparent","black"]},"legend":null}
}},
{"data":{"values":[{"t":"Φ\u00a0 =\u00a0 0.581\u00a0 (H7)\nσ\u00a0 =\u00a0 0.0065"}]},
"mark":{"type":"text","align":"left","baseline":"alphabetic","fontSize":11,"font":"DejaVu Sans","color":"black","lineBreak":"\n","lineHeight":12},
"encoding":{"x":{"datum":5.4},"y":{"datum":0.845},"text":{"field":"t","type":"nominal"}}}
]
},
{
"width":280,"height":178,
"layer":[
{"data":{"name":"bot"},
"mark":{"type":"point","filled":false,"stroke":"black","strokeWidth":0.9,"size":16,"opacity":1},
"encoding":{
"x":{"field":"x","type":"quantitative","scale":{"domain":[0,9],"nice":false,"zero":false},"axis":{"values":[0,0.5,1,1.5,2,2.5,3,3.5,4,4.5,5,5.5,6,6.5,7,7.5,8,8.5,9],"labelExpr":"datum.value % 2 === 0 ? format(datum.value, 'd') : ''","title":"log₁₀[delay\u00a0 time(μsec)]","tickSize":3,"labelPadding":0,"titlePadding":2}},
"y":{"field":"y","type":"quantitative","scale":{"domain":[-1,1.23],"nice":false,"zero":false},"axis":{"values":[-1,-0.5,0,0.5,1],"labelExpr":"datum.value % 1 === 0 ? format(datum.value, '.1f') : ''","title":null}},
"shape":{"field":"q","type":"nominal","scale":{"domain":["2.68","3.05","3.42","3.77","4.10"],"range":["circle","triangle-up","square","M-1,-1L1,1M-1,1L1,-1","square"]},
"legend":{"orient":"bottom-left","offset":15,"title":null,"labelExpr":"'\u2002\u2002' + (datum.label == '2.68' ? 'ooo' : datum.label == '3.05' ? '∆∆∆' : datum.label == '3.42' ? '◻◻◻' : datum.label == '3.77' ? '×××' : '◼◼◼') + '\u00a0 qR\u00a0 =\u00a0 ' + datum.label","symbolOpacity":0,"symbolSize":0,"symbolStrokeWidth":0,"labelOffset":24,"labelFontSize":9,"labelFont":"DejaVu Sans","labelColor":"black","rowPadding":-4}},
"fill":{"field":"q","type":"nominal","scale":{"domain":["2.68","3.05","3.42","3.77","4.10"],"range":["transparent","transparent","transparent","transparent","black"]},"legend":null}
}},
{"data":{"values":[{"t":"Φ\u00a0 =\u00a0 0.574\u00a0 (H6)\nσ\u00a0 =\u00a0 −0.0035"}]},
"mark":{"type":"text","align":"left","baseline":"alphabetic","fontSize":11,"font":"DejaVu Sans","color":"black","lineBreak":"\n","lineHeight":12},
"encoding":{"x":{"datum":1.0},"y":{"datum":0.06},"text":{"field":"t","type":"nominal"}}}
]
}
]
}
